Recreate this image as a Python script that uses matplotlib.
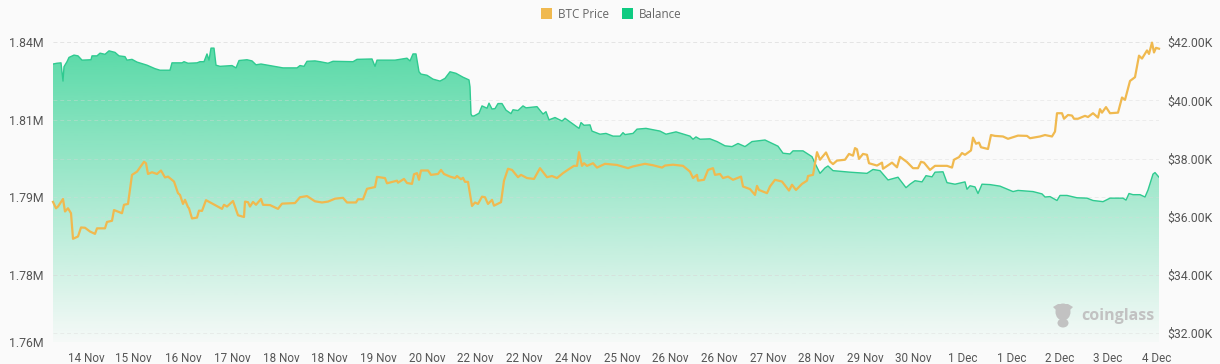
import numpy as np
import matplotlib
matplotlib.use("Agg")
import matplotlib.pyplot as plt
from matplotlib.colors import to_rgb
from matplotlib.patches import Ellipse, Polygon, Patch

plt.rcParams['font.family'] = ['Roboto', 'DejaVu Sans']

# ============================================================
# DADOS
# ============================================================
# samples since the start of the window
balance_t = [0, 4, 8, 9, 10, 11, 14, 16, 21, 25, 29, 38, 39, 44, 47, 52, 56, 62, 66, 72, 74, 79, 84,
             94, 102, 107, 117, 119, 129, 131, 135, 144, 147, 151, 154, 156, 158, 161, 163, 167, 174,
             179, 183, 186, 194, 199, 203, 208, 217, 230, 244, 247, 251, 254, 262, 267, 275, 280, 300,
             304, 319, 322, 324, 342, 354, 357, 360, 363, 366, 368, 374, 380, 387, 392, 397, 403, 410,
             416, 417, 418, 419, 421, 426, 429, 434, 436, 439, 442, 445, 449, 453, 458, 460, 465, 470,
             473, 484, 490, 493, 496, 502, 509, 512, 518, 526, 528, 531, 537, 539, 547, 553, 560, 567,
             570, 572, 580, 584, 593, 607, 613, 623, 637, 640, 643, 647, 657, 664, 672, 679, 685, 692,
             699, 712, 725, 730, 737, 740, 750, 759, 762, 767, 772, 775, 780, 797, 814, 820, 827, 835,
             845, 853, 857, 862, 869, 873, 879, 882, 890, 894, 902, 912, 914, 917, 922, 925, 929, 937,
             947, 960, 965, 980, 989, 992, 997, 1004, 1007, 1014, 1024, 1034, 1040, 1050, 1057, 1070,
             1073, 1076, 1080, 1087, 1092, 1095, 1100, 1102, 1106]
balance_m = [1.8294, 1.8296, 1.8297, 1.8274, 1.8250, 1.8287, 1.8300, 1.8311, 1.8317, 1.8315, 1.8304, 1.8305,
             1.8315, 1.8315, 1.8322, 1.8319, 1.8328, 1.8324, 1.8315, 1.8313, 1.8304, 1.8306, 1.8299,
             1.8291, 1.8282, 1.8278, 1.8278, 1.8297, 1.8297, 1.8300, 1.8296, 1.8297, 1.8300, 1.8300,
             1.8320, 1.8304, 1.8335, 1.8335, 1.8291, 1.8288, 1.8289, 1.8290, 1.8284, 1.8303, 1.8305,
             1.8302, 1.8292, 1.8294, 1.8290, 1.8284, 1.8284, 1.8290, 1.8288, 1.8301, 1.8302, 1.8300,
             1.8296, 1.8301, 1.8300, 1.8306, 1.8307, 1.8288, 1.8304, 1.8304, 1.8309, 1.8302, 1.8320,
             1.8320, 1.8274, 1.8268, 1.8265, 1.8255, 1.8250, 1.8257, 1.8274, 1.8270, 1.8260, 1.8253,
             1.8235, 1.8165, 1.8160, 1.8160, 1.8167, 1.8186, 1.8180, 1.8193, 1.8178, 1.8179, 1.8192,
             1.8192, 1.8175, 1.8166, 1.8176, 1.8174, 1.8186, 1.8181, 1.8184, 1.8165, 1.8171, 1.8150,
             1.8156, 1.8147, 1.8154, 1.8143, 1.8128, 1.8143, 1.8136, 1.8137, 1.8121, 1.8113, 1.8115,
             1.8108, 1.8108, 1.8117, 1.8112, 1.8115, 1.8126, 1.8128, 1.8121, 1.8113, 1.8119, 1.8108,
             1.8100, 1.8106, 1.8100, 1.8101, 1.8094, 1.8083, 1.8081, 1.8089, 1.8081, 1.8094, 1.8098,
             1.8082, 1.8064, 1.8062, 1.8070, 1.8070, 1.8055, 1.8038, 1.8012, 1.8026, 1.8031, 1.8019,
             1.8015, 1.8012, 1.8022, 1.8019, 1.7995, 1.8002, 1.7975, 1.7984, 1.7993, 1.7990, 1.8006,
             1.8003, 1.8015, 1.8016, 1.7988, 1.7984, 1.7990, 1.7971, 1.7980, 1.7977, 1.7960, 1.7984,
             1.7983, 1.7979, 1.7965, 1.7968, 1.7965, 1.7959, 1.7951, 1.7952, 1.7942, 1.7955, 1.7955,
             1.7949, 1.7948, 1.7942, 1.7939, 1.7948, 1.7948, 1.7943, 1.7960, 1.7957, 1.7957, 1.7951,
             1.7969, 1.8010, 1.8014, 1.8002]

price_t = [0, 3, 5, 10, 12, 15, 18, 20, 25, 28, 32, 37, 42, 44, 52, 54, 59, 61, 69, 71, 75, 79, 84, 91,
           93, 95, 99, 104, 108, 112, 115, 121, 125, 127, 130, 132, 135, 136, 139, 144, 146, 149, 153,
           160, 169, 171, 174, 180, 185, 191, 192, 195, 197, 200, 203, 208, 210, 217, 225, 229, 242,
           247, 254, 262, 269, 275, 282, 290, 294, 303, 305, 310, 314, 322, 324, 332, 334, 344, 345,
           351, 354, 359, 361, 364, 366, 368, 375, 378, 385, 388, 391, 397, 402, 404, 408, 410, 412,
           415, 419, 422, 425, 429, 432, 435, 439, 441, 448, 451, 455, 459, 465, 468, 474, 481, 487,
           494, 499, 504, 510, 516, 521, 524, 526, 529, 531, 534, 540, 544, 552, 564, 575, 580, 592,
           600, 609, 612, 620, 630, 637, 640, 644, 645, 651, 655, 660, 662, 667, 670, 675, 680, 688,
           690, 697, 702, 704, 706, 714, 717, 722, 729, 736, 739, 743, 749, 754, 755, 760, 764, 767,
           773, 777, 780, 784, 792, 796, 800, 802, 804, 806, 810, 814, 816, 824, 829, 830, 839, 844,
           847, 854, 860, 865, 868, 871, 877, 882, 894, 899, 901, 906, 909, 912, 918, 920, 923, 926,
           928, 935, 938, 942, 950, 955, 965, 974, 977, 987, 992, 999, 1002, 1004, 1009, 1011, 1015,
           1019, 1021, 1025, 1032, 1035, 1040, 1045, 1047, 1049, 1053, 1057, 1065, 1069, 1072, 1077,
           1082, 1086, 1089, 1094, 1096, 1099, 1101, 1103, 1106]
price_k = [36.51, 36.29, 36.35, 36.61, 36.18, 36.29, 36.12, 35.24, 35.32, 35.63, 35.62, 35.49, 35.41, 35.60,
           35.60, 35.82, 35.86, 36.23, 36.12, 36.41, 36.44, 37.44, 37.55, 37.89, 37.84, 37.47, 37.53,
           37.47, 37.59, 37.35, 37.38, 37.21, 36.81, 36.75, 36.44, 36.58, 36.33, 36.29, 35.94, 35.97,
           36.21, 36.20, 36.57, 36.44, 36.27, 36.41, 36.35, 36.54, 36.05, 35.99, 36.52, 36.50, 36.35,
           36.51, 36.41, 36.61, 36.41, 36.40, 36.27, 36.45, 36.47, 36.67, 36.71, 36.53, 36.49, 36.52,
           36.62, 36.65, 36.49, 36.49, 36.60, 36.60, 36.96, 37.02, 37.37, 37.33, 37.15, 37.24, 37.17,
           37.30, 37.16, 37.13, 37.46, 37.50, 37.27, 37.59, 37.59, 37.44, 37.47, 37.61, 37.47, 37.38,
           37.33, 37.40, 37.29, 37.34, 37.20, 37.20, 36.37, 36.49, 36.44, 36.69, 36.67, 36.44, 36.58,
           36.38, 36.50, 37.24, 37.65, 37.61, 37.36, 37.44, 37.33, 37.30, 37.67, 37.36, 37.40, 37.33,
           37.50, 37.64, 37.75, 37.75, 38.22, 37.75, 37.84, 37.75, 37.84, 37.69, 37.82, 37.78, 37.67,
           37.73, 37.82, 37.77, 37.69, 37.76, 37.79, 37.75, 37.55, 37.33, 37.44, 37.24, 37.27, 37.61,
           37.67, 37.44, 37.47, 37.33, 37.38, 37.27, 37.38, 37.04, 36.95, 36.75, 37.06, 36.92, 36.81,
           37.04, 37.27, 37.21, 36.90, 37.10, 36.92, 37.13, 37.24, 37.40, 37.44, 38.22, 37.96, 38.21,
           37.90, 37.81, 37.93, 37.96, 38.16, 38.10, 38.36, 38.32, 37.99, 38.16, 38.13, 37.84, 37.76,
           37.86, 37.65, 37.86, 37.70, 38.06, 37.88, 37.67, 37.67, 37.89, 37.86, 37.61, 37.75, 37.75,
           37.69, 37.96, 38.05, 38.19, 38.13, 38.28, 38.72, 38.51, 38.55, 38.39, 38.33, 38.81, 38.78,
           38.76, 38.68, 38.79, 38.78, 38.70, 38.76, 38.81, 38.76, 38.93, 39.56, 39.56, 39.37, 39.50,
           39.48, 39.37, 39.37, 39.47, 39.43, 39.56, 39.41, 39.70, 39.58, 39.77, 39.56, 39.58, 40.10,
           40.02, 40.67, 40.80, 41.54, 41.44, 41.72, 41.60, 41.99, 41.65, 41.81, 41.78]

date_ticks = [33, 80, 130, 179, 228, 276, 325, 374, 422, 471, 520, 569, 617, 666, 715, 763, 812, 860,
              910, 959, 1007, 1055, 1104]
date_labels = ["14 Nov", "15 Nov", "16 Nov", "17 Nov", "18 Nov", "18 Nov", "19 Nov", "20 Nov", "22 Nov",
               "22 Nov", "24 Nov", "25 Nov", "26 Nov", "26 Nov", "27 Nov", "28 Nov", "29 Nov", "30 Nov",
               "1 Dec", "1 Dec", "2 Dec", "3 Dec", "4 Dec"]
balance_ticks = [1.835, 1.815, 1.795, 1.775, 1.7577]
balance_labels = ["1.84M", "1.81M", "1.79M", "1.78M", "1.76M"]
price_ticks = [42, 40, 38, 36, 34, 32]
price_labels = ["$42.00K", "$40.00K", "$38.00K", "$36.00K", "$34.00K", "$32.00K"]

# ============================================================
# ESTILO
# ============================================================
BG = "#fafafa"
GREEN = "#0ecb81"
GREEN_LINE = "#2fca90"
GOLD = "#f0b94f"
GRID = "#d8d8d8"
TXT = "#555555"

W, H = 1220, 364
fig = plt.figure(figsize=(W / 100, H / 100), dpi=100, facecolor=BG)
ax = fig.add_axes([53 / W, (H - 342) / H, 1106 / W, 299.7 / H], facecolor=BG)
ax2 = ax.twinx()
ax2.patch.set_visible(False)

# ============================================================
# BALANCE (gradiente)
# ============================================================
ymin, ymax = balance_ticks[-1], balance_ticks[0]
ax.set_xlim(0, 1106)

grad = np.zeros((256, 1, 4))
grad[..., :3] = to_rgb(GREEN)
grad[..., 3] = np.linspace(0.68, 0.02, 256).reshape(-1, 1)
poly = ax.fill_between(balance_t, balance_m, ymin, color="none", lw=0)
im = ax.imshow(grad, extent=[0, 1106, ymin, 1.8335], aspect="auto", origin="upper", zorder=1)
im.set_clip_path(poly.get_paths()[0], transform=ax.transData)
ax.plot(balance_t, balance_m, color=GREEN_LINE, lw=1.0, zorder=3)
ax.set_xlim(0, 1106)
ax.set_ylim(ymin, ymax)

# ============================================================
# PREÇO
# ============================================================
ax2.plot(price_t, price_k, color=GOLD, lw=1.6, zorder=4, clip_on=False, solid_joinstyle="round")
ax2.set_ylim(31.69, 42)

# ============================================================
# EIXOS
# ============================================================
ax.set_yticks(balance_ticks)
ax.set_yticklabels(balance_labels)
ax2.set_yticks(price_ticks)
ax2.set_yticklabels(price_labels)
ax.set_xticks(date_ticks)
ax.set_xticklabels(date_labels)

ax.tick_params(axis="y", length=0, pad=6.5, labelsize=8.8, labelcolor=TXT)
ax2.tick_params(axis="y", length=0, pad=6, labelsize=8.8, labelcolor=TXT)
ax.tick_params(axis="x", length=0, pad=7, labelsize=8.4, labelcolor=TXT)
for a in (ax, ax2):
    for s in a.spines.values():
        s.set_visible(False)
    a.set_axisbelow(False)
    a.grid(axis="y", color=GRID, lw=0.7, ls=(0, (4, 3)), zorder=2, alpha=0.4)
ax.grid(axis="x", visible=False)

# ============================================================
# LEGENDA
# ============================================================
handles = [Patch(facecolor=GOLD, label="BTC Price"), Patch(facecolor=GREEN, label="Balance")]
fig.legend(handles=handles, loc="center", bbox_to_anchor=(611 / W, (H - 14) / H), ncol=2, frameon=False,
           labelcolor="#666666", handlelength=0.95, handleheight=0.95, handletextpad=0.5,
           columnspacing=1.1, prop={"family": "Open Sans", "size": 8.4})

# ============================================================
# MARCA D'ÁGUA
# ============================================================
MARK = "#c2c2c2"
fig.text(1081 / W, (H - 316) / H, "coinglass", fontsize=11.5, fontweight="bold", color=MARK,
         ha="left", va="center", family="Open Sans")
fx, fy = 1 / W, 1 / H
fig.add_artist(Ellipse((1063 * fx, 1 - 312 * fy), 15 * fx, 17 * fy, color=MARK, lw=0))
fig.add_artist(Ellipse((1063 * fx, 1 - 323 * fy), 11 * fx, 9 * fy, color=MARK, lw=0))
fig.add_artist(Polygon([(1053 * fx, 1 - 307 * fy), (1058 * fx, 1 - 304 * fy), (1068 * fx, 1 - 304 * fy),
                        (1073 * fx, 1 - 307 * fy), (1068 * fx, 1 - 312 * fy), (1058 * fx, 1 - 312 * fy)],
                       closed=True, color=MARK, lw=0, transform=fig.transFigure))

assert len(balance_t) == len(balance_m)
assert len(price_t) == len(price_k)

fig.savefig("out.png", dpi=100, facecolor=BG)
plt.close(fig)
